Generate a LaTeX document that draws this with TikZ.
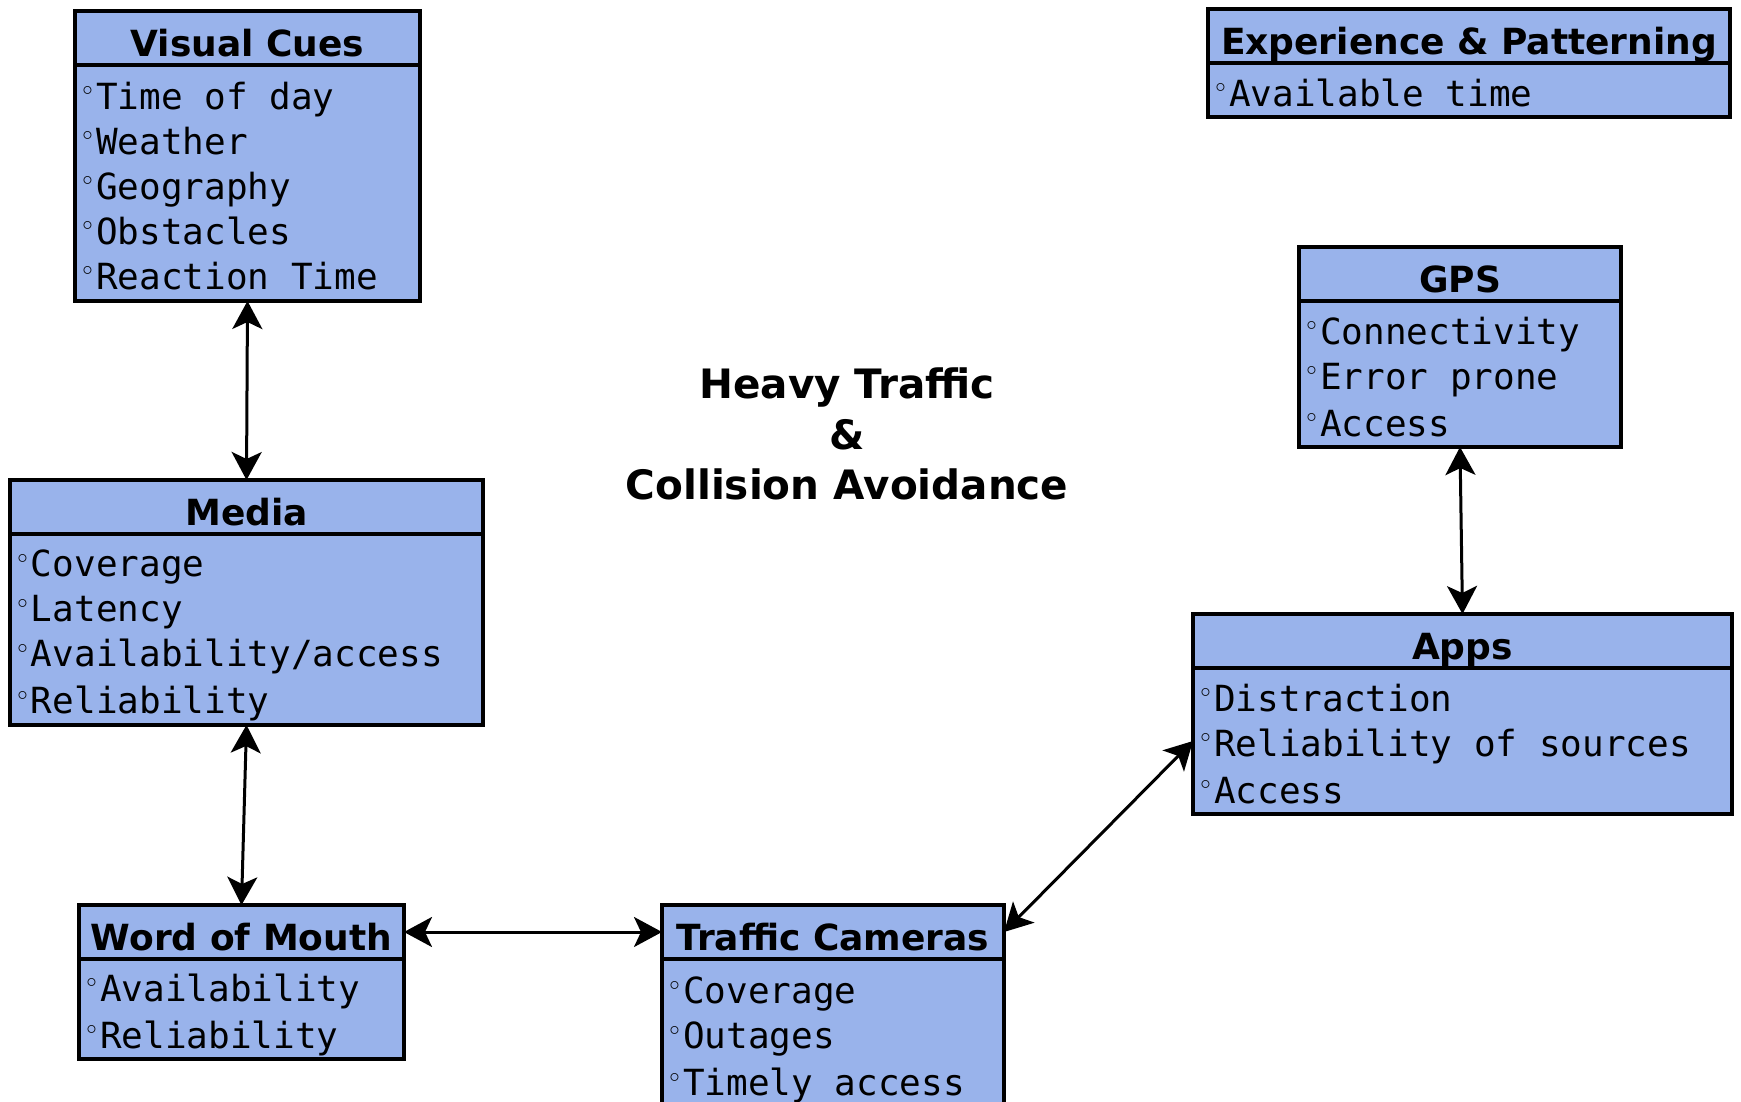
\documentclass[tikz,border=0pt]{standalone}
\usepackage{fontspec}
\setmainfont{DejaVu Sans}
\setmonofont{DejaVu Sans Mono}
\newfontfamily\bulfont{DejaVu Sans}
\usetikzlibrary{arrows.meta}
\definecolor{boxblue}{RGB}{153,179,235}
\newcommand\bul{\spaceskip=0.6021em\xspaceskip=0.6021em\lineskiplimit=-100pt\lineskip=0pt\relax
  \rule[-6.5pt]{0pt}{45pt}%
  \makebox[19pt][l]{\hspace{2.5pt}\raisebox{8.5pt}{\bulfont\fontsize{27}{27}\selectfont ◦}}}
\begin{document}
\begin{tikzpicture}[x=1pt,y=-1pt,
  hdr/.style={draw, fill=boxblue, line width=3.4pt, minimum height=54pt, inner sep=0pt, outer sep=0pt,
    text height=37pt, text depth=1pt,
    anchor=north west, font=\fontsize{36}{40}\selectfont\bfseries},
  body/.style={draw, fill=boxblue, line width=3.4pt, anchor=north, inner xsep=2pt, inner ysep=0pt,
    outer sep=0pt, align=left, font=\ttfamily\fontsize{36}{45}\selectfont},
  link/.style={line width=3pt, {Stealth[length=28pt,width=30pt,inset=7pt]}-{Stealth[length=28pt,width=30pt,inset=7pt]}}]
\useasboundingbox (0,0) rectangle (1741,1101);
\clip (0,0) rectangle (1741,1101);
\fill[white] (0,0) rectangle (1741,1101);

% Visual Cues
\node[hdr, minimum width=345pt] (vcT) at (75,11) {Visual Cues};
\node[body, text width=341pt, minimum height=236pt] (vcB) at (vcT.south)
  {\bul Time of day\\\bul Weather\\\bul Geography\\\bul Obstacles\\\bul Reaction Time};

% Media
\node[hdr, minimum width=473pt] (mdT) at (10,480) {Media};
\node[body, text width=469pt, minimum height=191pt] (mdB) at (mdT.south)
  {\bul Coverage\\\bul Latency\\\bul Availability/access\\\bul Reliability};

% Word of Mouth
\node[hdr, minimum width=325pt] (wmT) at (79,905) {Word of Mouth};
\node[body, text width=321pt, minimum height=100pt] (wmB) at (wmT.south)
  {\bul Availability\\\bul Reliability};

% Traffic Cameras (runs off the bottom edge)
\node[hdr, minimum width=342pt] (tcT) at (662,905) {Traffic Cameras};
\node[body, text width=338pt, inner ysep=6pt] (tcB) at (tcT.south)
  {\bul Coverage\\\bul Outages\\\bul Timely access};

% Apps
\node[hdr, minimum width=539pt] (apT) at (1193,614) {Apps};
\node[body, text width=535pt, minimum height=146pt] (apB) at (apT.south)
  {\bul Distraction\\\bul Reliability of sources\\\bul Access};

% GPS
\node[hdr, minimum width=322pt] (gpT) at (1299,247) {GPS};
\node[body, text width=318pt, minimum height=146pt] (gpB) at (gpT.south)
  {\bul Connectivity\\\bul Error prone\\\bul Access};

% Experience & Patterning
\node[hdr, minimum width=522pt] (exT) at (1208,9) {Experience \& Patterning};
\node[body, text width=518pt, minimum height=54pt] (exB) at (exT.south)
  {\bul Available time};

% Centre title
\node[align=center, font=\bfseries\fontsize{40.5}{50.5}\selectfont] (ctr) at (847,434)
  {Heavy Traffic\\\&\\Collision Avoidance};

% Connectors
\draw[link] (vcB.south) -- (mdT.north);
\draw[link] (mdB.south) -- (wmT.north);
\draw[link] (wmT.east) -- (tcT.west);
\draw[link] (tcT.east) -- (apB.west);
\draw[link] (gpB.south) -- (apT.north);
\end{tikzpicture}
\end{document}
